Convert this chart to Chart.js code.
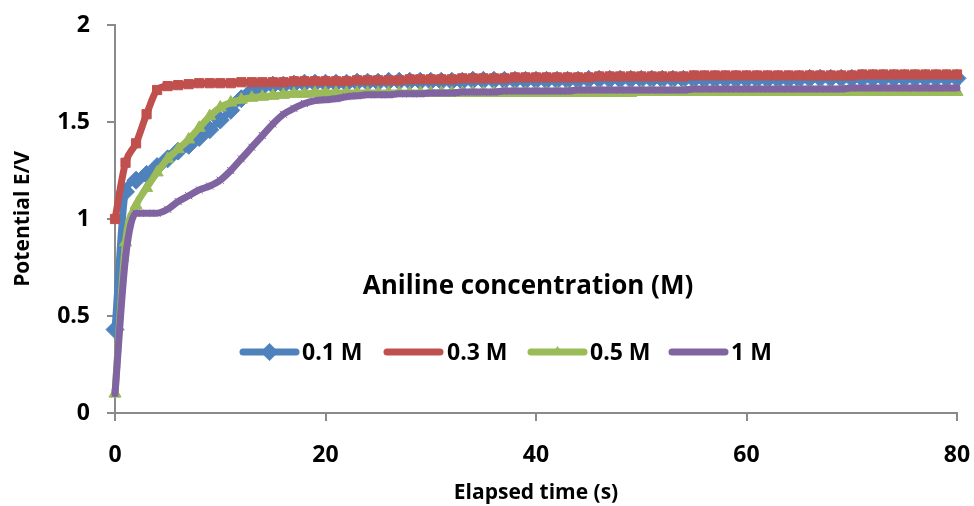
<!DOCTYPE html>
<html lang="en">
<head>
  <meta charset="UTF-8">
  <title>Aniline potential</title>
  <style>
    body { margin: 0; background: #fff; }
    .wrapper { width: 974px; height: 506px; }
  </style>
</head>
<body>
  <div class="wrapper">
    <canvas id="potentialChart" width="974" height="506"></canvas>
  </div>

  <script src="https://cdn.jsdelivr.net/npm/chart.js"></script>
  <script>
    // elapsed time, one reading per second
    const times = [
      0,1,2,3,4,5,6,7,8,9,10,11,12,13,14,15,16,17,18,19,20,
      21,22,23,24,25,26,27,28,29,30,31,32,33,34,35,36,37,38,39,40,
      41,42,43,44,45,46,47,48,49,50,51,52,53,54,55,56,57,58,59,60,
      61,62,63,64,65,66,67,68,69,70,71,72,73,74,75,76,77,78,79,80
    ]

    const m01 = [
      0.43,1.14,1.20,1.23,1.27,1.31,1.35,1.38,1.42,1.46,1.51,1.56,1.62,1.66,1.68,1.69,1.69,1.695,1.70,1.70,1.70,
      1.70,1.70,1.705,1.705,1.705,1.71,1.71,1.71,1.71,1.71,1.71,1.71,1.71,1.715,1.715,1.715,1.715,1.715,1.715,1.715,
      1.715,1.715,1.715,1.715,1.72,1.72,1.72,1.72,1.72,1.72,1.72,1.72,1.72,1.72,1.72,1.72,1.72,1.72,1.72,1.72,
      1.72,1.72,1.72,1.72,1.72,1.725,1.725,1.725,1.725,1.725,1.725,1.725,1.725,1.725,1.725,1.725,1.725,1.725,1.725,1.725
    ]

    const m03 = [
      1.00,1.29,1.39,1.54,1.665,1.685,1.69,1.695,1.70,1.70,1.70,1.70,1.705,1.705,1.705,1.705,1.705,1.71,1.71,1.71,1.71,
      1.71,1.71,1.715,1.715,1.715,1.715,1.715,1.72,1.72,1.72,1.72,1.72,1.725,1.725,1.725,1.725,1.725,1.73,1.73,1.73,
      1.73,1.73,1.73,1.73,1.73,1.735,1.735,1.735,1.735,1.735,1.735,1.735,1.735,1.735,1.74,1.74,1.74,1.74,1.74,1.74,
      1.74,1.74,1.74,1.74,1.74,1.74,1.74,1.74,1.74,1.74,1.745,1.745,1.745,1.745,1.745,1.745,1.745,1.745,1.745,1.745
    ]

    const m05 = [
      0.10,0.88,1.07,1.16,1.24,1.31,1.36,1.41,1.47,1.53,1.575,1.60,1.615,1.625,1.63,1.635,1.64,1.645,1.645,1.65,1.65,
      1.65,1.65,1.65,1.65,1.65,1.65,1.65,1.65,1.65,1.65,1.65,1.65,1.65,1.65,1.65,1.65,1.65,1.65,1.65,1.65,
      1.65,1.65,1.65,1.65,1.65,1.65,1.65,1.65,1.65,1.655,1.655,1.655,1.655,1.655,1.655,1.655,1.655,1.655,1.655,1.655,
      1.655,1.655,1.655,1.655,1.655,1.655,1.655,1.655,1.655,1.655,1.655,1.655,1.655,1.655,1.655,1.655,1.655,1.655,1.655,1.655
    ]

    const m1 = [
      0.10,0.80,1.03,1.03,1.03,1.05,1.09,1.12,1.15,1.17,1.20,1.25,1.31,1.37,1.43,1.49,1.54,1.57,1.595,1.61,1.615,
      1.62,1.63,1.635,1.64,1.64,1.64,1.645,1.645,1.645,1.65,1.65,1.65,1.655,1.655,1.655,1.655,1.66,1.66,1.66,1.66,
      1.66,1.66,1.66,1.665,1.665,1.665,1.665,1.665,1.665,1.665,1.665,1.665,1.665,1.665,1.67,1.67,1.67,1.67,1.67,1.67,
      1.67,1.67,1.67,1.67,1.67,1.67,1.67,1.67,1.67,1.675,1.675,1.675,1.675,1.675,1.675,1.675,1.675,1.675,1.675,1.675
    ]

    const seriesNames = ['0.1 M', '0.3 M', '0.5 M', '1 M']
    const seriesColors = ['#4F81BD', '#C0504D', '#9BBB59', '#8064A2']
    const yTicks = [0, 0.5, 1, 1.5, 2]
    const xTicks = [0, 20, 40, 60, 80]

    const axisGrey = '#8a8a8a'
    const fontFamily = '"Open Sans", "DejaVu Sans", sans-serif'

    function toPoints(values){
      return values.map((v, i) => ({x: times[i], y: v}))
    }

    function makeSet(idx, values, style, radius, order){
      return {
        label: seriesNames[idx],
        data: toPoints(values),
        borderColor: seriesColors[idx],
        backgroundColor: seriesColors[idx],
        pointBackgroundColor: seriesColors[idx],
        pointBorderColor: seriesColors[idx],
        pointStyle: style,
        pointRadius: radius,
        pointBorderWidth: 1,
        borderWidth: 7,
        tension: 0.4,
        cubicInterpolationMode: 'monotone',
        borderCapStyle: 'round',
        borderJoinStyle: 'round',
        fill: false,
        clip: false,
        order: order
      }
    }

    // legend block drawn inside the plot like the original
    const insideLegend = {
      id: 'insideLegend',
      afterDraw(chart){
        const ctx = chart.ctx
        ctx.save()
        ctx.fillStyle = '#000'
        ctx.textBaseline = 'middle'
        ctx.font = 'bold 26px ' + fontFamily
        ctx.textAlign = 'center'
        ctx.fillText('Aniline concentration (M)', 528, 287)

        const items = [
          {x0: 243, x1: 296, tx: 302},
          {x0: 387, x1: 440, tx: 447},
          {x0: 531, x1: 584, tx: 590},
          {x0: 672, x1: 725, tx: 731}
        ]
        const ly = 352
        ctx.font = 'bold 23px ' + fontFamily
        ctx.textAlign = 'left'
        items.forEach((it, i) => {
          ctx.strokeStyle = seriesColors[i]
          ctx.lineWidth = 7
          ctx.lineCap = 'round'
          ctx.beginPath()
          ctx.moveTo(it.x0, ly)
          ctx.lineTo(it.x1, ly)
          ctx.stroke()
          const cx = (it.x0 + it.x1) / 2
          ctx.fillStyle = seriesColors[i]
          if (i === 0) {
            ctx.beginPath()
            ctx.moveTo(cx, ly - 9)
            ctx.lineTo(cx + 9, ly)
            ctx.lineTo(cx, ly + 9)
            ctx.lineTo(cx - 9, ly)
            ctx.closePath()
            ctx.fill()
          } else if (i === 2) {
            ctx.beginPath()
            ctx.moveTo(cx, ly - 6)
            ctx.lineTo(cx + 4, ly)
            ctx.lineTo(cx - 4, ly)
            ctx.closePath()
            ctx.fill()
          }
          ctx.fillStyle = '#000'
          ctx.fillText(seriesNames[i], it.tx, ly + 1)
        })
        ctx.restore()
      }
    }

    const config = {
      type: 'line',
      data: {
        datasets: [
          makeSet(0, m01, 'rectRot', 9, 4),
          makeSet(1, m03, 'rect', 6.5, 3),
          makeSet(2, m05, 'triangle', 7, 2),
          makeSet(3, m1, 'crossRot', 5, 1)
        ]
      },
      options: {
        responsive: false,
        animation: false,
        layout: {
          autoPadding: false,
          padding: {top: 25, right: 17, bottom: 0, left: 0}
        },
        plugins: {
          legend: {display: false},
          tooltip: {enabled: false}
        },
        scales: {
          x: {
            type: 'linear',
            min: 0,
            max: 80,
            afterBuildTicks: (scale) => { scale.ticks = xTicks.map(v => ({value: v})) },
            afterFit: (scale) => {
              scale.height = 93
              scale.paddingLeft = 0
              scale.paddingRight = 0
            },
            grid: {drawOnChartArea: false, color: axisGrey, lineWidth: 2, tickLength: 8},
            border: {color: axisGrey, width: 2},
            ticks: {color: '#000', padding: 21, font: {family: fontFamily, size: 23, weight: 'bold'}},
            title: {
              display: true,
              text: 'Elapsed time (s)',
              color: '#000',
              padding: {top: 0, bottom: 0},
              font: {family: fontFamily, size: 21, weight: 'bold'}
            }
          },
          y: {
            min: 0,
            max: 2,
            afterBuildTicks: (scale) => { scale.ticks = yTicks.map(v => ({value: v})) },
            afterFit: (scale) => {
              scale.width = 115
              scale.paddingTop = 0
              scale.paddingBottom = 0
            },
            grid: {drawOnChartArea: false, color: axisGrey, lineWidth: 2, tickLength: 8},
            border: {color: axisGrey, width: 2},
            ticks: {
              color: '#000',
              padding: 17,
              font: {family: fontFamily, size: 23, weight: 'bold'},
              callback: (value) => String(value)
            },
            title: {
              display: true,
              text: 'Potential E/V',
              color: '#000',
              padding: {top: 10, bottom: 0},
              font: {family: fontFamily, size: 21, weight: 'bold'}
            }
          }
        }
      },
      plugins: [insideLegend]
    }

    const potentialChart = new Chart(document.getElementById('potentialChart'), config)
  </script>
</body>
</html>
